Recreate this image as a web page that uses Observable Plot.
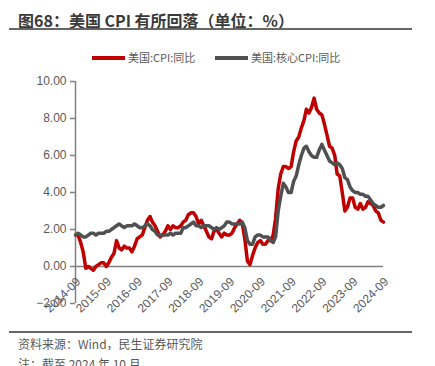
<!DOCTYPE html>
<html><head><meta charset="utf-8">
<script src="https://cdn.jsdelivr.net/npm/d3@7"></script>
<script src="https://cdn.jsdelivr.net/npm/@observablehq/plot@0.6"></script>
<style>
html,body{margin:0;padding:0;background:#fff;width:435px;height:366px;overflow:hidden;position:relative;font-family:"Liberation Sans","Noto Sans CJK SC",sans-serif;}
.abs{position:absolute;white-space:nowrap;}
#title{left:18px;top:10px;font-size:16px;font-weight:bold;color:#3a3a3a;font-family:"Noto Sans CJK SC",sans-serif;line-height:20px;}
.hr{position:absolute;left:9px;width:403px;height:1.5px;background:#666;}
.leg{font-size:11px;color:#595959;top:50px;line-height:14px;font-family:"Noto Sans CJK SC",sans-serif;}
.sw{position:absolute;height:3.5px;top:56px;}
#chart{position:absolute;left:0;top:70px;}
.foot{left:18px;font-size:12px;color:#595959;font-family:"Noto Sans CJK SC",sans-serif;line-height:16px;}
</style></head>
<body>
<div id="title" class="abs">图68：美国 CPI 有所回落（单位：%）</div>
<div class="hr" style="top:28px"></div>
<div class="sw" style="left:92px;width:33px;background:#C00000"></div>
<div class="abs leg" style="left:128px">美国:CPI:同比</div>
<div class="sw" style="left:215px;width:33px;background:#505050"></div>
<div class="abs leg" style="left:251px">美国:核心CPI:同比</div>
<div id="chart"></div>
<div class="hr" style="top:331px"></div>
<div class="abs foot" style="top:336px">资料来源：Wind，民生证券研究院</div>
<div class="abs foot" style="top:356px">注：截至 2024 年 10 月</div>
<script>
const seriesNames = ["美国:CPI:同比", "美国:核心CPI:同比"];
const startMonth = "2014-09";
// monthly, 2014-09 .. 2024-09
const cpi = [
 1.7,1.7,1.3,0.8,
 -0.1,0.0,-0.1,-0.2,0.0,0.1,0.2,0.2,0.0,0.2,0.5,0.7,
 1.4,1.0,0.9,1.1,1.0,1.0,0.8,1.1,1.5,1.6,1.7,2.1,
 2.5,2.7,2.4,2.2,1.9,1.6,1.7,1.9,2.2,2.0,2.2,2.1,
 2.1,2.2,2.4,2.5,2.8,2.9,2.9,2.7,2.3,2.5,2.2,1.9,
 1.6,1.5,1.9,2.0,1.8,1.6,1.8,1.7,1.7,1.8,2.1,2.3,
 2.5,2.3,1.5,0.3,0.1,0.6,1.0,1.3,1.4,1.2,1.2,1.4,
 1.4,1.7,2.6,4.2,5.0,5.4,5.4,5.3,5.4,6.2,6.8,7.0,
 7.5,7.9,8.5,8.3,8.6,9.1,8.5,8.3,8.2,7.7,7.1,6.5,
 6.4,6.0,5.0,4.9,4.0,3.0,3.2,3.7,3.7,3.2,3.1,3.4,
 3.1,3.2,3.5,3.4,3.3,3.0,2.9,2.5,2.4
];
const core = [
 1.7,1.8,1.7,1.6,
 1.6,1.7,1.8,1.8,1.7,1.8,1.8,1.8,1.9,1.9,2.0,2.1,
 2.2,2.3,2.2,2.1,2.2,2.2,2.2,2.3,2.2,2.1,2.1,2.2,
 2.3,2.2,2.0,1.9,1.7,1.7,1.7,1.7,1.7,1.8,1.7,1.8,
 1.8,1.8,2.1,2.1,2.2,2.3,2.4,2.2,2.2,2.1,2.2,2.2,
 2.2,2.1,2.0,2.1,2.0,2.1,2.2,2.4,2.4,2.3,2.3,2.3,
 2.3,2.4,2.1,1.4,1.2,1.2,1.6,1.7,1.7,1.6,1.6,1.6,
 1.4,1.3,1.6,3.0,3.8,4.5,4.3,4.0,4.0,4.6,4.9,5.5,
 6.0,6.4,6.5,6.2,6.0,5.9,5.9,6.3,6.6,6.3,6.0,5.7,
 5.6,5.5,5.6,5.5,5.3,4.8,4.7,4.3,4.1,4.0,4.0,3.9,
 3.9,3.8,3.8,3.6,3.4,3.3,3.2,3.2,3.3
];
const xTickLabels = ["2014-09","2015-09","2016-09","2017-09","2018-09","2019-09","2020-09","2021-09","2022-09","2023-09","2024-09"];
const yTicks = [-2,0,2,4,6,8,10];

const parse = d3.utcParse("%Y-%m");
const t0 = parse(startMonth);
const rows = [];
cpi.forEach((v,i)=>rows.push({date:d3.utcMonth.offset(t0,i), value:v, series:seriesNames[0]}));
core.forEach((v,i)=>rows.push({date:d3.utcMonth.offset(t0,i), value:v, series:seriesNames[1]}));
const xt = xTickLabels.map(s=>({date:parse(s), label:s}));
const x0 = parse(xTickLabels[0]);

const chart = Plot.plot({
  width:435, height:263,
  marginLeft:75, marginRight:52, marginTop:11, marginBottom:30,
  style:{fontFamily:"Liberation Sans, sans-serif", fontSize:"11px", color:"#595959", background:"transparent"},
  x:{type:"utc", domain:[x0, parse(xTickLabels[xTickLabels.length-1])], axis:null},
  y:{domain:[-2,10], axis:null},
  color:{domain:seriesNames, range:["#C00000","#505050"]},
  marks:[
    Plot.ruleX([x0],{y1:-2,y2:10,stroke:"#808080",strokeWidth:1.5}),
    Plot.ruleY([0],{stroke:"#808080",strokeWidth:1.5}),
    Plot.ruleY(yTicks,{y:d=>d, x1:x0, x2:x0, insetLeft:-5, stroke:"#808080", strokeWidth:1.5}),
    Plot.text(yTicks,{y:d=>d, x:x0, text:d=>d3.format(".2f")(d), textAnchor:"end", dx:-9, fill:"#595959", fontSize:12}),
    Plot.line(rows,{x:"date", y:"value", z:"series", stroke:"series", strokeWidth:3.5, strokeLinejoin:"round"}),
    Plot.text(xt,{x:"date", y:0, text:"label", rotate:-45, textAnchor:"end", lineAnchor:"middle", dx:3, dy:13, fill:"#595959", fontSize:12})
  ]
});
document.getElementById("chart").appendChild(chart);
</script>
</body></html>
